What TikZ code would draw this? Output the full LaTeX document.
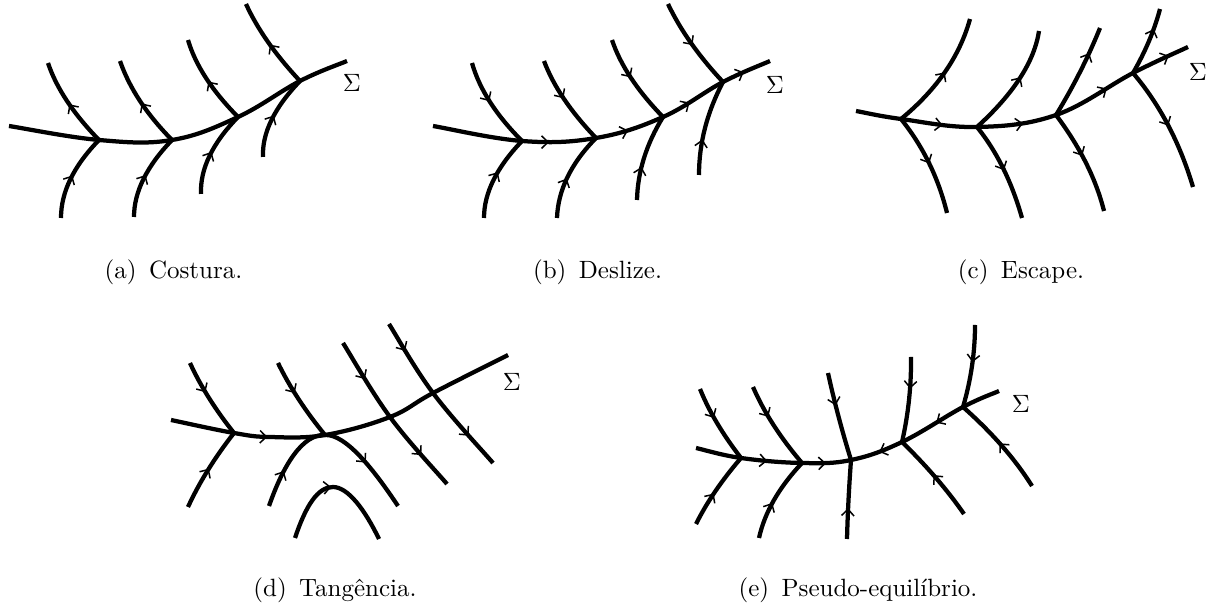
\documentclass[tikz,border=0pt]{standalone}
\usepackage{fontspec}
\usetikzlibrary{arrows.meta,decorations.markings,calc}
% quadratic-like branch through A, M (middle), B
\newcommand\qbr[4]{%
  \coordinate (qQ) at ($2*(#3)-0.5*(#2)-0.5*(#4)$);
  \draw[#1] (#2) .. controls ($(#2)!0.6667!(qQ)$) and ($(#4)!0.6667!(qQ)$) .. (#4);}
% Catmull-Rom segment from #2 to #3 (neighbours #1 and #4)
\newcommand\crs[4]{.. controls ($(#2)+0.18*(#3)-0.18*(#1)$) and ($(#3)-0.18*(#4)+0.18*(#2)$) .. (#3)}
\begin{document}
\begin{tikzpicture}[x=0.4pt,y=-0.4pt,
  line width=1.7pt,
  >={Straight Barb[length=2.6pt,width=5pt,line width=0.6pt]},
  ar/.style={postaction={decorate,decoration={markings,mark=at position #1 with {\arrow{>}}}}},
  ra/.style={postaction={decorate,decoration={markings,mark=at position #1 with {\arrowreversed{>}}}}},
  captxt/.style={anchor=base,inner sep=0pt},
  sig/.style={inner sep=0pt}]
\useasboundingbox (0,0) rectangle (1218,610);

% ---------- (a) Costura ----------
\coordinate (aS0) at (9,126);
\coordinate (aJ1) at (99,140); \coordinate (aJ2) at (172,140);
\coordinate (aJ3) at (238,117); \coordinate (aJ4) at (300,81);
\coordinate (aS5) at (347,61);
\draw (aS0) \crs{aS0}{aS0}{aJ1}{aJ2} \crs{aS0}{aJ1}{aJ2}{aJ3} \crs{aJ1}{aJ2}{aJ3}{aJ4}
  \crs{aJ2}{aJ3}{aJ4}{aS5} \crs{aJ3}{aJ4}{aS5}{aS5};
\qbr{ar=0.5}{aJ1}{67,101}{48,63}
\qbr{ar=0.5}{aJ2}{140,101}{120,61}
\qbr{ar=0.5}{aJ3}{206,78}{188,40}
\qbr{ar=0.5}{aJ4}{268,42}{246,4}
\qbr{ar=0.5}{61,218}{70.5,179}{aJ1}
\qbr{ar=0.5}{134,217}{143.5,179}{aJ2}
\qbr{ar=0.5}{201,194}{209.5,156}{aJ3}
\qbr{ar=0.5}{263,157}{271.5,120}{aJ4}
\node[sig] (sa) at (352,83) {$\Sigma$};
\node[captxt] (capa) at (173.5,279) {(a)\enspace Costura.};

% ---------- (b) Deslize ----------
\coordinate (bS0) at (433,126);
\coordinate (bJ1) at (522,141); \coordinate (bJ2) at (596,138);
\coordinate (bJ3) at (663,117); \coordinate (bJ4) at (723,82);
\coordinate (bS5) at (770,61);
\draw[ar=0.33,ar=0.555,ar=0.745,ar=0.92] (bS0) \crs{bS0}{bS0}{bJ1}{bJ2} \crs{bS0}{bJ1}{bJ2}{bJ3}
  \crs{bJ1}{bJ2}{bJ3}{bJ4} \crs{bJ2}{bJ3}{bJ4}{bS5} \crs{bJ3}{bJ4}{bS5}{bS5};
\qbr{ar=0.45}{472,63}{490,102}{bJ1}
\qbr{ar=0.45}{544,61}{564,99}{bJ2}
\qbr{ar=0.45}{612,40}{631,78}{bJ3}
\qbr{ar=0.5}{668,4}{691,43}{bJ4}
\qbr{ar=0.55}{484,218}{493.5,180}{bJ1}
\qbr{ar=0.45}{557,218}{567.5,177}{bJ2}
\qbr{ar=0.38}{637,200}{644,158}{bJ3}
\qbr{ar=0.37}{699,175}{705,128}{bJ4}
\node[sig] (sb) at (775,85) {$\Sigma$};
\node[captxt] (capb) at (597.5,279) {(b)\enspace Deslize.};

% ---------- (c) Escape ----------
\coordinate (cS0) at (856,111);
\coordinate (cJ1) at (901,119); \coordinate (cJ2) at (977,127);
\coordinate (cJ3) at (1056,115); \coordinate (cJ4) at (1133,73);
\coordinate (cS5) at (1188,47);
\draw[ar=0.25,ar=0.48,ar=0.74,ar=0.94] (cS0) \crs{cS0}{cS0}{cJ1}{cJ2} \crs{cS0}{cJ1}{cJ2}{cJ3}
  \crs{cJ1}{cJ2}{cJ3}{cJ4} \crs{cJ2}{cJ3}{cJ4}{cS5} \crs{cJ3}{cJ4}{cS5}{cS5};
\qbr{ar=0.52}{cJ1}{945,72}{970,19}
\qbr{ar=0.57}{cJ2}{1020,78}{1039,31}
\qbr{ar=0.72}{cJ3}{1080,72}{1100,28}
\qbr{ar=0.7}{cJ4}{1149,41}{1160,9}
\qbr{ar=0.5}{cJ1}{929,163}{947,213}
\qbr{ar=0.5}{cJ2}{1003,168}{1022,218}
\qbr{ar=0.45}{cJ3}{1086,163}{1104,211}
\qbr{ar=0.49}{cJ4}{1168,125}{1193,187}
\node[sig] (sc) at (1198,72) {$\Sigma$};
\node[captxt] (capc) at (1021,279) {(c)\enspace Escape.};

% ---------- (d) Tangencia ----------
\coordinate (dS0) at (171,420);
\coordinate (dJ1) at (234,433); \coordinate (dP) at (270,437);
\coordinate (dJ2) at (325,435);
\coordinate (dJ3) at (390,417); \coordinate (dJ4) at (433,393);
\coordinate (dS5) at (508,355);
\draw[ar=0.275] (dS0) \crs{dS0}{dS0}{dJ1}{dP} \crs{dS0}{dJ1}{dP}{dJ2} \crs{dJ1}{dP}{dJ2}{dJ3}
  \crs{dP}{dJ2}{dJ3}{dJ4} \crs{dJ2}{dJ3}{dJ4}{dS5} \crs{dJ3}{dJ4}{dS5}{dS5};
\qbr{ar=0.4}{190,363}{209,398}{dJ1}
\qbr{ar=0.4}{278,363}{298.5,399}{dJ2}
\coordinate (dT3) at (343,343); \coordinate (dB3) at (447,484);
\draw[ar=0.24,ar=0.78] (dT3) \crs{dT3}{dT3}{dJ3}{dB3} \crs{dT3}{dJ3}{dB3}{dB3};
\coordinate (dT4) at (389,324); \coordinate (dB4) at (493,463);
\draw[ar=0.18,ar=0.79] (dT4) \crs{dT4}{dT4}{dJ4}{dB4} \crs{dT4}{dJ4}{dB4}{dB4};
\qbr{ar=0.5}{188,507}{208,470}{dJ1}
\draw[ar=0.19,ar=0.73] (269,506) .. controls (283,466) and (302,434) .. (dJ2)
  .. controls (346,434) and (374,470) .. (398,506);
\draw[ar=0.47] (295,538) .. controls (306,505) and (318,487) .. (333,487)
  .. controls (348,487) and (365,510) .. (379,539);
\node[sig] (sd) at (512,382) {$\Sigma$};
\node[captxt] (capd) at (335,597) {(d)\enspace Tangência.};

% ---------- (e) Pseudo-equilibrio ----------
\coordinate (eS0) at (696,448);
\coordinate (eJ1) at (741,458); \coordinate (eJ2) at (802,463);
\coordinate (eJ3) at (851,460); \coordinate (eJ4) at (902,442);
\coordinate (eJ5) at (963,407); \coordinate (eS6) at (999,391);
\draw[ar=0.226,ar=0.41,ra=0.58,ra=0.78] (eS0) \crs{eS0}{eS0}{eJ1}{eJ2} \crs{eS0}{eJ1}{eJ2}{eJ3}
  \crs{eJ1}{eJ2}{eJ3}{eJ4} \crs{eJ2}{eJ3}{eJ4}{eJ5} \crs{eJ3}{eJ4}{eJ5}{eS6} \crs{eJ4}{eJ5}{eS6}{eS6};
\qbr{ar=0.4}{700,389}{717,423}{eJ1}
\qbr{ar=0.37}{753,387}{773.5,425}{eJ2}
\qbr{ar=0.37}{828,373}{838.5,416.5}{eJ3}
\qbr{ar=0.37}{911,357}{909,400}{eJ4}
\qbr{ar=0.45}{975,325}{972,366}{eJ5}
\qbr{ar=0.44}{696,524}{715.5,491}{eJ1}
\qbr{ar=0.43}{759,538}{774,500}{eJ2}
\qbr{ar=0.39}{847,539}{848.5,500}{eJ3}
\qbr{ar=0.52}{964,514}{936,478}{eJ4}
\qbr{ar=0.51}{1032,486}{1002,446}{eJ5}
\node[sig] (se) at (1021,404) {$\Sigma$};
\node[captxt] (cape) at (858,597) {(e)\enspace Pseudo-equilíbrio.};
\end{tikzpicture}
\end{document}
